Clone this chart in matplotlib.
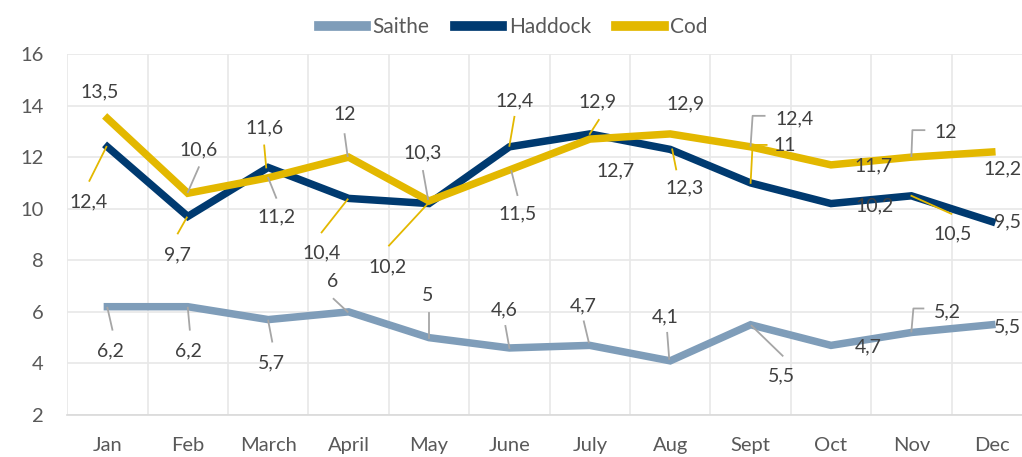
import matplotlib
matplotlib.use("Agg")
import matplotlib.pyplot as plt
import matplotlib.transforms as mtransforms
import numpy as np

plt.rcParams['font.family'] = ['Lato', 'DejaVu Sans']

months = ["Jan", "Feb", "March", "April", "May", "June", "July", "Aug",
          "Sept", "Oct", "Nov", "Dec"]
saithe = [6.2, 6.2, 5.7, 6, 5, 4.6, 4.7, 4.1, 5.5, 4.7, 5.2, 5.5]
haddock = [12.4, 9.7, 11.6, 10.4, 10.2, 12.4, 12.9, 12.3, 11, 10.2, 10.5, 9.5]
cod = [13.5, 10.6, 11.2, 12, 10.3, 11.5, 12.7, 12.9, 12.4, 11.7, 12, 12.2]
yticks = [2, 4, 6, 8, 10, 12, 14, 16]

C_SAITHE = "#7F9DB9"
C_HADDOCK = "#003A70"
C_COD = "#E3B800"
C_LEAD_GRAY = "#A6A6A6"
C_TEXT = "#404040"

# label layout: (text offset px, leader vertices px relative to point, leader color)
G, Y = C_LEAD_GRAY, C_COD
cod_layout = [
    ((-8, 27), None, None),
    ((11, 43), [(11, 26), (0, 1)], G),
    ((8, -39), [(0, 0), (8, -20)], G),
    ((-4, 43), [(-4, 23), (-1, 1)], G),
    ((-6, 48), [(-6, 30), (-1, 2)], G),
    ((8, -44), [(2, -1), (8, -25)], G),
    ((26, -32), None, None),
    ((15, 30), None, None),
    ((44, 28), [(14, 31), (2, 31), (0, 1)], G),
    ((43, -1), None, None),
    ((34, 25), [(13, 27), (1, 27), (0, 1)], G),
    ((11, -17), None, None),
]
haddock_layout = [
    ((-19, -55), [(-18, -34), (-1, 0)], Y),
    ((-10, -38), [(-10, -17), (-1, -1)], Y),
    ((-4, 40), [(-4, 22), (-2, 0)], Y),
    ((-27, -54), [(-27, -34), (-1, -1)], Y),
    ((-41, -63), [(-40, -42), (-2, -1)], Y),
    ((5, 46), [(5, 30), (0, 1)], Y),
    ((8, 32), [(9, 14), (0, 0)], Y),
    ((14, -38), [(2, 0), (6, -20)], Y),
    ((34, 37), [(16, 38), (2, 38), (0, 0)], Y),
    ((44, -2), None, None),
    ((41, -38), [(0, 0), (40, -18)], Y),
    ((16, 0), None, None),
]
saithe_layout = [
    ((3, -44), [(0, -1), (5, -23)], G),
    ((1, -44), [(0, -1), (2, -23)], G),
    ((3, -43), [(0, -1), (4, -22)], G),
    ((-16, 30), [(-15, 13), (-1, 0)], G),
    ((-1, 42), [(0, 25), (0, 0)], G),
    ((-5, 38), [(-4, 22), (0, 0)], G),
    ((-7, 40), [(-6, 24), (-1, 3)], G),
    ((-5, 44), [(-3, 28), (-1, 2)], G),
    ((31, -51), [(1, -1), (32, -31)], G),
    ((37, -1), None, None),
    ((36, 21), [(12, 24), (2, 24), (0, 1)], G),
    ((16, -2), None, None),
]

W, H = 1022, 457
fig = plt.figure(figsize=(W / 100, H / 100), dpi=100)
x0 = 67.2
x1 = 1032.0
ax = fig.add_axes([x0 / W, 1 - 415 / H, (x1 - x0) / W, (415 - 54) / H])

x = np.arange(len(months))
lw = 5.4
ax.plot(x, saithe, color=C_SAITHE, lw=lw, solid_joinstyle='miter', label="Saithe", zorder=3)
ax.plot(x, haddock, color=C_HADDOCK, lw=lw, solid_joinstyle='miter', label="Haddock", zorder=4)
ax.plot(x, cod, color=C_COD, lw=lw, solid_joinstyle='miter', label="Cod", zorder=5)

ax.set_xlim(-0.5, len(months) - 0.5)
ax.set_ylim(2, 16)
ax.set_yticks(yticks)
ax.set_yticklabels([str(v) for v in yticks])
ax.set_xticks(x)
ax.set_xticklabels(months)
ax.set_xticks(np.arange(-0.5, len(months), 1), minor=True)
ax.tick_params(axis='both', which='both', length=0, labelsize=14.5, labelcolor="#595959")
ax.tick_params(axis='x', pad=16)
ax.tick_params(axis='y', pad=17)
ax.grid(True, axis='y', which='major', color="#E8E8E8", lw=1.2)
ax.grid(True, axis='x', which='minor', color="#E8E8E8", lw=1.2)
ax.grid(False, axis='x', which='major')
for s in ['top', 'right', 'left']:
    ax.spines[s].set_visible(False)
ax.spines['bottom'].set_color("#D9D9D9")
ax.spines['bottom'].set_linewidth(1.2)
ax.set_axisbelow(True)

fig.canvas.draw()
ident = mtransforms.IdentityTransform()

def place(values, layout):
    for i, (v, (toff, lead, lc)) in enumerate(zip(values, layout)):
        px, py = ax.transData.transform((i, v))
        label = str(v).replace('.', ',')
        ax.text(px + toff[0], py + toff[1], label, transform=ident,
                ha='center', va='center', fontsize=14, color=C_TEXT,
                zorder=7, clip_on=False)
        if lead is not None:
            xs = [px + a for a, b in lead]
            ys = [py + b for a, b in lead]
            ax.plot(xs, ys, transform=ident, color=lc, lw=1.3, zorder=6,
                    clip_on=False)

place(saithe, saithe_layout)
place(haddock, haddock_layout)
place(cod, cod_layout)

fig.legend(loc='center', bbox_to_anchor=(513 / W, 1 - 27 / H), ncol=3,
           frameon=False, fontsize=15, handlelength=2.3, handletextpad=0.3,
           columnspacing=1.2, labelcolor="#595959")
for lh in fig.legends[0].get_lines():
    lh.set_linewidth(7)

fig.savefig("out.png", dpi=100)
